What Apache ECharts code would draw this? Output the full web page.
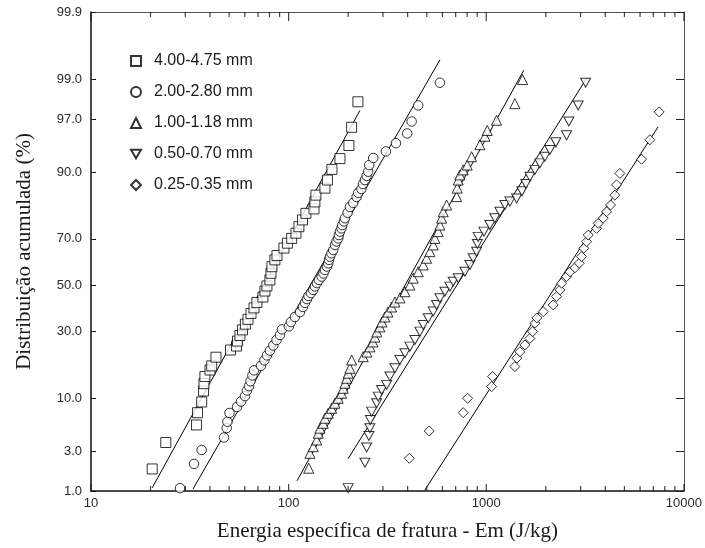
<!DOCTYPE html>
<html>
<head>
<meta charset="utf-8">
<script src="https://cdn.jsdelivr.net/npm/echarts@6/dist/echarts.min.js"></script>
<style>html,body{margin:0;padding:0;background:#fff}#c{width:705px;height:548px}</style>
</head>
<body>
<div id="c"></div>
<script>
// ---- data (energy J/kg, cumulative %) ----
const seriesNames = ['4.00-4.75 mm', '2.00-2.80 mm', '1.00-1.18 mm', '0.50-0.70 mm', '0.25-0.35 mm'];

const sqE = [20.4, 23.9, 34.2, 34.6, 36.3, 37.1, 37.3, 37.7, 40.0, 40.8, 42.9, 50.8, 54.5, 55.1, 56.7, 58.4, 60.4, 62.3, 64.5, 66.8, 69.1, 74.1, 75.9, 77.7, 80.4, 81.4, 82.3, 85.2, 87.3, 94.7, 98.6, 103.6, 108.9, 112.7, 117.5, 122.3, 134.3, 135.8, 137.4, 152.6, 157.1, 165.6, 181.8, 201.8, 208.3, 224.1];
const sqP = [1.89, 3.77, 5.71, 7.48, 9.35, 11.6, 13.3, 15.1, 16.9, 18.1, 20.8, 23.2, 24.6, 26.4, 28.5, 30.7, 33.0, 35.0, 37.5, 39.9, 42.3, 44.7, 47.4, 49.7, 52.4, 55.4, 58.3, 61.3, 63.2, 66.3, 68.3, 70.2, 72.2, 74.6, 77.0, 79.2, 80.6, 82.7, 84.6, 86.4, 88.3, 90.5, 92.4, 94.3, 96.3, 98.1];

const ciE = [28.2, 33.2, 36.3, 47.1, 48.6, 49.0, 50.2, 54.8, 57.4, 60.1, 61.5, 63.0, 64.1, 65.6, 66.8, 72.4, 75.4, 77.7, 80.4, 83.6, 86.8, 90.4, 92.5, 100.3, 102.7, 107.6, 114.1, 118.1, 120.9, 123.8, 126.0, 129.7, 133.2, 135.8, 139.0, 142.3, 146.9, 150.0, 152.6, 156.2, 158.6, 160.0, 161.8, 164.6, 168.1, 171.5, 174.5, 178.2, 179.6, 181.8, 185.0, 186.7, 190.4, 192.7, 198.8, 204.2, 212.2, 220.8, 224.9, 233.4, 237.6, 243.2, 248.1, 252.7, 255.7, 267.9, 310.5, 349.0, 398.1, 419.0, 452.5, 582.6];
const ciP = [1.09, 2.17, 3.13, 4.26, 5.33, 6.15, 7.44, 8.44, 9.44, 10.5, 11.7, 12.7, 13.9, 15.4, 16.8, 18.1, 19.8, 21.4, 23.0, 24.8, 26.8, 28.7, 30.9, 32.1, 33.9, 36.0, 38.1, 40.3, 42.1, 43.8, 45.2, 46.5, 47.9, 49.5, 51.0, 52.4, 53.9, 55.3, 56.9, 58.4, 59.8, 61.3, 62.7, 64.1, 65.5, 67.6, 69.0, 70.2, 71.5, 72.8, 74.0, 75.2, 76.5, 77.6, 79.4, 81.2, 82.4, 84.1, 85.2, 86.2, 87.4, 88.3, 89.2, 90.05, 91.3, 92.5, 93.5, 94.6, 95.7, 96.8, 97.9, 98.9];

const tuE = [126.4, 128.2, 133.2, 138.6, 141.2, 144.0, 149.6, 152.6, 158.6, 165.0, 171.5, 178.2, 185.3, 188.9, 192.7, 196.6, 200.2, 204.2, 208.3, 238.4, 248.9, 257.8, 266.9, 273.2, 279.6, 289.6, 296.4, 306.9, 318.0, 331.9, 345.0, 365.6, 387.5, 410.8, 426.9, 452.5, 479.6, 498.9, 518.5, 538.8, 549.5, 571.1, 582.6, 594.2, 605.4, 629.8, 707.7, 712.6, 721.0, 735.4, 764.3, 800.7, 842.9, 928.3, 984.1, 1011, 1127, 1395, 1526];
const tuP = [1.93, 2.87, 3.40, 4.01, 4.71, 5.30, 5.93, 6.63, 7.39, 8.21, 9.11, 10.06, 11.1, 12.2, 13.4, 14.65, 16.0, 17.4, 19.9, 20.97, 22.5, 24.3, 26.1, 27.9, 29.9, 31.9, 33.9, 36.0, 38.1, 40.3, 42.5, 44.3, 47.1, 50.1, 53.2, 56.1, 59.1, 62.0, 64.8, 67.6, 70.2, 72.8, 75.2, 77.6, 79.7, 81.8, 84.2, 86.4, 88.3, 89.4, 90.4, 91.3, 92.7, 94.4, 95.4, 96.0, 96.9, 98.0, 99.0];

const tdE = [200.2, 243.2, 248.1, 254.8, 257.8, 259.3, 263.0, 278.7, 284.0, 295.5, 313.1, 325.4, 345.0, 365.6, 387.5, 410.8, 435.4, 461.5, 479.6, 508.3, 538.8, 560.5, 582.6, 617.4, 654.5, 680.2, 721.0, 779.7, 826.3, 858.6, 893.4, 901.6, 910.0, 972.5, 1043, 1105, 1172, 1242, 1317, 1424, 1514, 1586, 1662, 1762, 1867, 1979, 2098, 2249, 2548, 2617, 2917, 3180];
const tdP = [1.09, 2.24, 3.33, 4.42, 5.30, 6.39, 7.65, 9.11, 10.4, 11.8, 13.0, 15.1, 17.4, 19.9, 22.1, 24.4, 26.8, 30.0, 32.7, 35.5, 38.3, 41.2, 44.2, 47.1, 49.4, 51.6, 53.2, 56.1, 59.1, 62.0, 64.8, 68.0, 70.8, 72.8, 75.2, 77.6, 79.7, 81.8, 82.8, 83.7, 85.6, 87.4, 89.0, 90.4, 91.6, 92.7, 93.7, 94.7, 95.5, 96.8, 97.9, 98.9];

const diE = [407.9, 514.3, 764.3, 804.4, 1064, 1076, 1395, 1428, 1479, 1568, 1662, 1715, 1762, 1803, 1940, 2180, 2268, 2357, 2404, 2548, 2648, 2806, 2951, 3035, 3117, 3217, 3278, 3614, 3681, 3903, 4059, 4254, 4471, 4560, 4740, 6103, 6723, 7494];
const diP = [2.52, 4.97, 7.49, 10.07, 12.6, 15.1, 17.9, 20.5, 22.6, 25.0, 27.4, 30.0, 33.4, 35.6, 38.3, 41.2, 44.9, 47.9, 50.9, 53.9, 56.0, 57.8, 59.8, 62.7, 66.2, 68.9, 71.5, 74.0, 75.8, 77.6, 79.7, 81.8, 84.6, 87.2, 89.7, 92.3, 95.0, 97.5];

// fitted lines: two end points each (energy, %)
const fitSqE = [20.4, 229.6],  fitSqP = [1.1, 97.6];
const fitCiE = [32.8, 582.6],  fitCiP = [1.06, 99.46];
const fitTuE = [110.2, 1549],  fitTuP = [1.35, 99.25];
const fitTdE = [199.6, 3228],  fitTdP = [2.48, 99.05];
const fitDiE = [489, 7406],    fitDiP = [1.03, 96.35];

// axis ticks
const yTickPercents = [1, 3, 10, 30, 50, 70, 90, 97, 99, 99.9];
const yTickLabels = ['1.0', '3.0', '10.0', '30.0', '50.0', '70.0', '90.0', '97.0', '99.0', '99.9'];
const xMajorTicks = [10, 100, 1000, 10000];
const xMinorTicks = [20, 30, 40, 50, 60, 70, 80, 90, 200, 300, 400, 500, 600, 700, 800, 900, 2000, 3000, 4000, 5000, 6000, 7000, 8000, 9000];
const xMin = 10, xMax = 10000;

// ---- normal probability transform (inverse normal CDF, Acklam) ----
function probit(p) {
  const a = [-3.969683028665376e+01, 2.209460984245205e+02, -2.759285104469687e+02, 1.383577518672690e+02, -3.066479806614716e+01, 2.506628277459239e+00];
  const b = [-5.447609879822406e+01, 1.615858368580409e+02, -1.556989798598866e+02, 6.680131188771972e+01, -1.328068155288572e+01];
  const c = [-7.784894002430293e-03, -3.223964580411365e-01, -2.400758277161838e+00, -2.549732539343734e+00, 4.374664141464968e+00, 2.938163982698783e+00];
  const d = [7.784695709041462e-03, 3.224671290700398e-01, 2.445134137142996e+00, 3.754408661907416e+00];
  const pl = 0.02425, ph = 1 - pl;
  let q, r;
  if (p < pl) {
    q = Math.sqrt(-2 * Math.log(p));
    return (((((c[0]*q+c[1])*q+c[2])*q+c[3])*q+c[4])*q+c[5]) / ((((d[0]*q+d[1])*q+d[2])*q+d[3])*q+1);
  }
  if (p <= ph) {
    q = p - 0.5; r = q * q;
    return (((((a[0]*r+a[1])*r+a[2])*r+a[3])*r+a[4])*r+a[5])*q / (((((b[0]*r+b[1])*r+b[2])*r+b[3])*r+b[4])*r+1);
  }
  q = Math.sqrt(-2 * Math.log(1 - p));
  return -(((((c[0]*q+c[1])*q+c[2])*q+c[3])*q+c[4])*q+c[5]) / ((((d[0]*q+d[1])*q+d[2])*q+d[3])*q+1);
}
const toPts = (E, P) => E.map((e, i) => [e, probit(P[i] / 100)]);
const yTickZ = yTickPercents.map(p => probit(p / 100));
const yMin = yTickZ[0], yMax = yTickZ[yTickZ.length - 1];
function yLabel(v) {
  let best = 0;
  for (let i = 1; i < yTickZ.length; i++) if (Math.abs(yTickZ[i] - v) < Math.abs(yTickZ[best] - v)) best = i;
  return yTickLabels[best];
}

const triDown = 'path://M0,0 L20,0 L10,17.32 Z';
const pointStyle = { color: '#ffffff', borderColor: '#000000', borderWidth: 1 };
function scatter(name, E, P, symbol, size) {
  return { name, type: 'scatter', data: toPts(E, P), symbol, symbolSize: size,
    itemStyle: pointStyle, silent: true, z: 3 };
}
function fit(E, P) {
  return { type: 'line', data: toPts(E, P), showSymbol: false, symbol: 'none', silent: true,
    lineStyle: { color: '#000', width: 1 }, z: 2 };
}
// x-axis tick marks on the bottom and top frame, placed through the log axis
function xTicks(values, atY, len, down) {
  return { type: 'scatter', silent: true, clip: false, z: 6, symbol: 'rect',
    symbolSize: [1.2, len], symbolOffset: [0, down ? len / 2 : -len / 2],
    itemStyle: { color: '#111111' }, data: values.map(v => [v, atY]) };
}

const labelFont = { fontFamily: 'Liberation Sans', fontSize: 13, color: '#2a2a2a' };

const chart = echarts.init(document.getElementById('c'), null, { renderer: 'canvas' });
chart.setOption({
  animation: false,
  backgroundColor: '#ffffff',
  grid: { left: 91, right: 21, top: 12, bottom: 57, containLabel: false },
  legend: {
    data: seriesNames, orient: 'vertical', left: 130, top: 53, padding: 0,
    itemWidth: 10, itemHeight: 10, itemGap: 15, symbolKeepAspect: true,
    textStyle: { fontFamily: 'Liberation Sans', fontSize: 16, color: '#1a1a1a', padding: [0, 0, 0, 8] }
  },
  xAxis: [{
    type: 'log', logBase: 10, min: xMin, max: xMax, position: 'bottom',
    name: 'Energia específica de fratura - Em (J/kg)', nameLocation: 'middle', nameGap: 30,
    nameTextStyle: { fontFamily: 'Liberation Serif', fontSize: 21, color: '#1a1a1a' },
    axisLine: { show: true, onZero: false, lineStyle: { color: '#111', width: 1.5 } },
    axisTick: { show: false },
    axisLabel: Object.assign({ margin: 6, formatter: v => String(Math.round(v)) }, labelFont),
    splitLine: { show: false }
  }, {
    type: 'log', logBase: 10, min: xMin, max: xMax, position: 'top',
    axisLine: { show: true, onZero: false, lineStyle: { color: '#555', width: 1 } },
    axisTick: { show: false },
    axisLabel: { show: false }, splitLine: { show: false }
  }],
  yAxis: [{
    type: 'value', min: yMin, max: yMax, position: 'left',
    name: 'Distribuição acumulada (%)', nameLocation: 'middle', nameGap: 56, nameRotate: 90,
    nameTextStyle: { fontFamily: 'Liberation Serif', fontSize: 21, color: '#1a1a1a' },
    axisLine: { show: true, onZero: false, lineStyle: { color: '#111', width: 1.5 } },
    axisTick: { show: true, inside: true, length: 5, customValues: yTickZ, lineStyle: { color: '#111', width: 1 } },
    axisLabel: Object.assign({ margin: 9, customValues: yTickZ, formatter: yLabel }, labelFont),
    splitLine: { show: false }
  }, {
    type: 'value', min: yMin, max: yMax, position: 'right',
    axisLine: { show: true, onZero: false, lineStyle: { color: '#555', width: 1 } },
    axisTick: { show: true, inside: true, length: 8, customValues: yTickZ, lineStyle: { color: '#222', width: 1 } },
    axisLabel: { show: false }, splitLine: { show: false }
  }],
  series: [
    scatter(seriesNames[0], sqE, sqP, 'rect', 10),
    scatter(seriesNames[1], ciE, ciP, 'circle', 9.5),
    scatter(seriesNames[2], tuE, tuP, 'triangle', 10),
    scatter(seriesNames[3], tdE, tdP, triDown, [10, 9]),
    scatter(seriesNames[4], diE, diP, 'diamond', 10),
    fit(fitSqE, fitSqP), fit(fitCiE, fitCiP), fit(fitTuE, fitTuP), fit(fitTdE, fitTdP), fit(fitDiE, fitDiP),
    xTicks(xMajorTicks, yMin, 7, false),
    xTicks(xMinorTicks, yMin, 5, false),
    xTicks(xMajorTicks, yMax, 9, true),
    xTicks(xMinorTicks, yMax, 5, true)
  ]
});
</script>
</body>
</html>
